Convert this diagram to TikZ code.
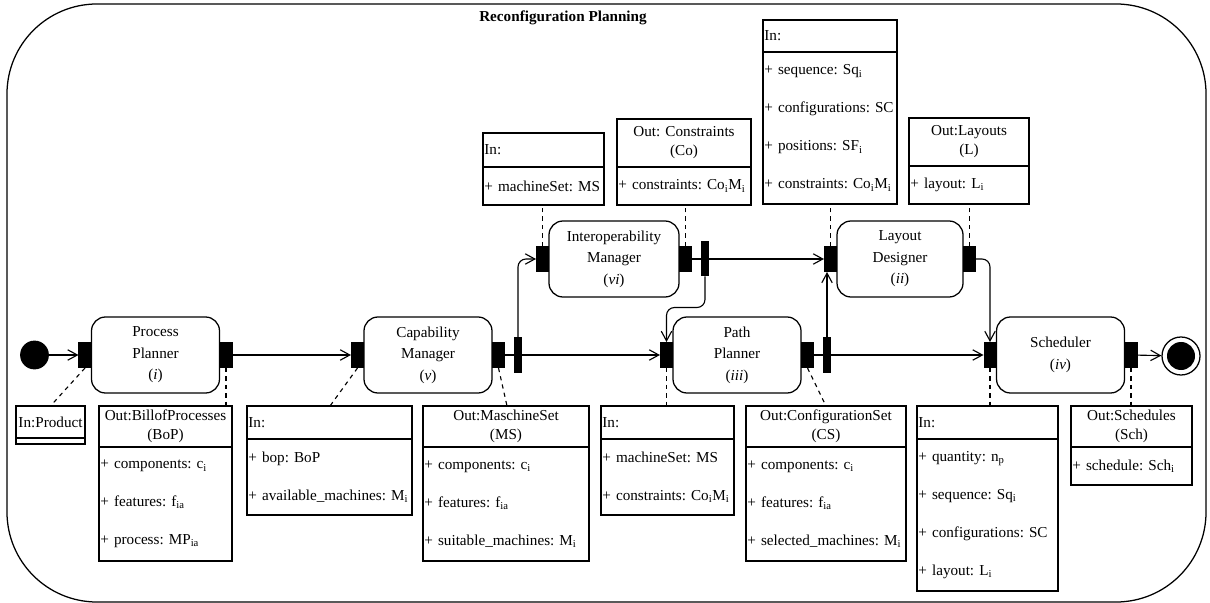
\documentclass[tikz,border=0pt]{standalone}
\usepackage{fontspec}
\setmainfont{Liberation Serif}
\usetikzlibrary{arrows.meta,calc,positioning}
\tikzset{flow/.style={-{Straight Barb[length=2.4mm,width=2.6mm]}, line width=0.8pt},
  link/.style={dashed, line width=0.8pt},
  act/.style={draw, line width=0.9pt, rounded corners=3.5mm, minimum width=32mm, minimum height=19mm,
    outer sep=0pt, align=center, font=\fontsize{10.8}{15.3}\selectfont},
  pinbox/.style={fill=black, minimum width=3.25mm, minimum height=6.5mm, inner sep=0pt, outer sep=0pt},
  forkbar/.style={fill=black, minimum width=2mm, minimum height=8.75mm, inner sep=0pt, outer sep=0pt},
  objhead/.style={draw, line width=0.9pt, inner xsep=1pt, inner ysep=0pt, outer sep=0pt, anchor=north west,
    align=center, font=\fontsize{10.8}{13.5}\selectfont},
  objbody/.style={draw, line width=0.9pt, inner xsep=1pt, inner ysep=0pt, outer sep=0pt, anchor=north west,
    align=left, font=\fontsize{10.8}{27}\selectfont}}

\begin{document}
\frenchspacing
\begin{tikzpicture}[x=0.25mm, y=-0.25mm, font=\fontsize{10.8}{13.5}\selectfont]
  \useasboundingbox (0,0) rectangle (1210,603);
  % activity frame
  \node[draw, line width=0.9pt, rounded corners=22.5mm, minimum width=299.75mm, minimum height=149.5mm] (frame) at (606.5,303) {};
  \node[font=\fontsize{10.8}{13}\selectfont\bfseries] (title) at (563,18) {Reconfiguration Planning};
  % actions
  \node[act] (pp) at (155.5,355) {Process\\Planner\\(\textit{i})};
  \node[act] (cm) at (428,355) {Capability\\Manager\\(\textit{v})};
  \node[act, minimum width=32.5mm] (im) at (614,259) {Interoperability\\Manager\\(\textit{vi})};
  \node[act] (pth) at (737,355) {Path\\Planner\\(\textit{iii})};
  \node[act, minimum width=31.5mm] (ld) at (900,259) {Layout\\Designer\\(\textit{ii})};
  \node[act] (sch) at (1060.5,355) {Scheduler\\(\textit{iv})};
  \foreach \n in {pp,cm,im,pth,ld,sch}{
    \node[pinbox, left=0pt of \n] (\n-in) {};
    \node[pinbox, right=0pt of \n] (\n-out) {};}
  \foreach \n in {cm,im,pth}{\node[forkbar, right=2.25mm of \n-out] (\n-fork) {};}
  \node[circle, fill=black, minimum size=7.2mm, inner sep=0pt] (start) at (34.5,355) {};
  \node[circle, draw, line width=0.9pt, minimum size=9.5mm, inner sep=0pt] (fin) at (1181,356) {};
  \node[circle, fill=black, minimum size=7mm, inner sep=0pt] (fin-dot) at (fin) {};
  % control flow
  \draw[flow] (start) -- (pp-in);
  \draw[flow] (pp-out) -- (cm-in);
  \foreach \n in {cm,im,pth}{\draw[line width=0.8pt] (\n-out) -- (\n-fork);}
  \draw[flow] (cm-fork) -- (pth-in);
  \draw[flow, rounded corners=2mm] (cm-fork.north) |- (im-in.west);
  \draw[flow] (im-fork) -- (ld-in);
  \draw[flow, rounded corners=2mm] (im-fork.south) -- ++(0,31) -| (pth-in.north);
  \draw[flow] (pth-fork) -- (sch-in);
  \draw[flow] (pth-fork.north) -- (pth-fork.north |- ld-in.south);
  \draw[flow, rounded corners=2mm] (ld-out.east) -| (sch-in.north);
  \draw[flow] (sch-out) -- (fin);
  % object nodes below
  \node[objhead, text width=16.55mm, minimum height=8mm] (prod-h) at (16,406) {In:Product};
  \node[objbody, text width=16.55mm, minimum height=1.5mm] (prod-b) at (prod-h.south west) {};
  \node[objhead, text width=32.55mm, minimum height=10.25mm] (bop-h) at (99,406) {Out:BillofProcesses\\(BoP)};
  \node[objbody, text width=32.55mm, minimum height=28.5mm] (bop-b) at (bop-h.south west)
    {+ components: c\textsubscript{i}\\+ features: f\textsubscript{ia}\\+ process: MP\textsubscript{ia}};
  \node[objhead, text width=40.55mm, minimum height=8.25mm, align=left] (cmi-h) at (247,406) {In:};
  \node[objbody, text width=40.55mm, minimum height=19mm] (cmi-b) at (cmi-h.south west)
    {+ bop: BoP\\+ available\_machines: M\textsubscript{i}};
  \node[objhead, text width=40.8mm, minimum height=10.25mm] (mso-h) at (423,406) {Out:MaschineSet\\(MS)};
  \node[objbody, text width=40.8mm, minimum height=28.5mm] (mso-b) at (mso-h.south west)
    {+ components: c\textsubscript{i}\\+ features: f\textsubscript{ia}\\+ suitable\_machines: M\textsubscript{i}};
  \node[objhead, text width=32.55mm, minimum height=8.25mm, align=left] (pti-h) at (601,406) {In:};
  \node[objbody, text width=32.55mm, minimum height=19mm] (pti-b) at (pti-h.south west)
    {+ machineSet: MS\\+ constraints: Co\textsubscript{i}M\textsubscript{i}};
  \node[objhead, text width=39.3mm, minimum height=10.25mm] (cso-h) at (746,406) {Out:ConfigurationSet\\(CS)};
  \node[objbody, text width=39.3mm, minimum height=28.5mm] (cso-b) at (cso-h.south west)
    {+ components: c\textsubscript{i}\\+ features: f\textsubscript{ia}\\+ selected\_machines: M\textsubscript{i}};
  \node[objhead, text width=34.55mm, minimum height=8.25mm, align=left] (schi-h) at (917,406) {In:};
  \node[objbody, text width=34.55mm, minimum height=38mm] (schi-b) at (schi-h.south west)
    {+ quantity: n\textsubscript{p}\\+ sequence: Sq\textsubscript{i}\\+ configurations: SC\\+ layout: L\textsubscript{i}};
  \node[objhead, text width=29.55mm, minimum height=10.25mm] (scho-h) at (1071,406) {Out:Schedules\\(Sch)};
  \node[objbody, text width=29.55mm, minimum height=9.5mm] (scho-b) at (scho-h.south west)
    {+ schedule: Sch\textsubscript{i}};
  % object nodes above
  \node[objhead, text width=29.55mm, minimum height=8.5mm, align=left] (imi-h) at (483,133) {In:};
  \node[objbody, text width=29.55mm, minimum height=9.5mm] (imi-b) at (imi-h.south west) {+ machineSet: MS};
  \node[objhead, text width=32.8mm, minimum height=12mm] (coo-h) at (617,119) {Out: Constraints\\(Co)};
  \node[objbody, text width=32.8mm, minimum height=9.5mm] (coo-b) at (coo-h.south west)
    {+ constraints: Co\textsubscript{i}M\textsubscript{i}};
  \node[objhead, text width=32.8mm, minimum height=8mm, align=left] (ldi-h) at (763,20) {In:};
  \node[objbody, text width=32.8mm, minimum height=38mm] (ldi-b) at (ldi-h.south west)
    {+ sequence: Sq\textsubscript{i}\\+ configurations: SC\\+ positions: SF\textsubscript{i}\\+ constraints: Co\textsubscript{i}M\textsubscript{i}};
  \node[objhead, text width=29.3mm, minimum height=12mm] (layo-h) at (909,118) {Out:Layouts\\(L)};
  \node[objbody, text width=29.3mm, minimum height=9.5mm] (layo-b) at (layo-h.south west) {+ layout: L\textsubscript{i}};
  % object flow
  \draw[link] (pp-in.south) -- (prod-h.north);
  \draw[link] (pp-out.south) -- (pp-out.south |- bop-h.north);
  \draw[link] (cm-in.south) -- ($(cmi-h.north west)+(83,0)$);
  \draw[link] (cm-out.south) -- ($(mso-h.north west)+(84,0)$);
  \draw[link] (pth-in.south) -- (pth-in.south |- pti-h.north);
  \draw[link] (pth-out.south) -- ($(cso-h.north west)+(80,0)$);
  \draw[link] (sch-in.south) -- (sch-in.south |- schi-h.north);
  \draw[link] (sch-out.south) -- (sch-out.south |- scho-h.north);
  \draw[link] (im-in.north) -- (im-in.north |- imi-b.south);
  \draw[link] (im-out.north) -- (im-out.north |- coo-b.south);
  \draw[link] (ld-in.north) -- (ld-in.north |- ldi-b.south);
  \draw[link] (ld-out.north) -- (ld-out.north |- layo-b.south);
\end{tikzpicture}
\end{document}
